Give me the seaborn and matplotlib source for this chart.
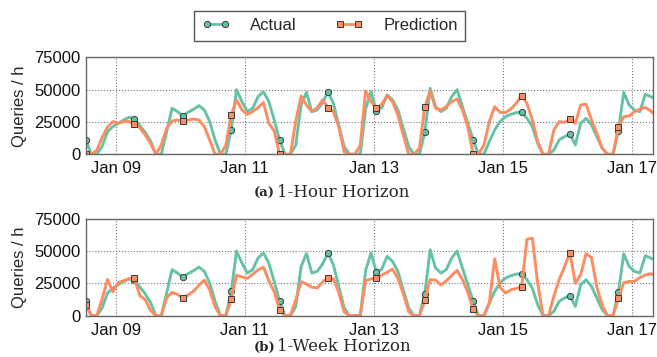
import matplotlib
matplotlib.use("Agg")
import matplotlib.pyplot as plt
from matplotlib.lines import Line2D
import seaborn as sns
import pandas as pd

# ---- data (2-hourly samples starting Jan 08 13:00) ----
start = "2016-01-08 13:00"
step = "2h"

actual = [
    11000, 0, 0, 6000, 17500, 21400, 24000, 26500, 28600,
    27300, 22200, 17000, 10300, 0, 0, 17500, 35600, 33000,
    29900, 32500, 34800, 37600, 34300, 25300, 11100, 0, 0,
    18800, 50000, 40700, 33000, 35600, 44600, 48500, 40700, 26500,
    11100, 0, 0, 7000, 38000, 48000, 33000, 34300, 40000,
    48400, 39400, 22700, 6000, 0, 0, 0, 35000, 48500,
    33500, 36000, 45900, 42000, 34300, 20100, 6000, 0, 0,
    17000, 51000, 36900, 33000, 35600, 44600, 50000, 36900, 24000,
    11100, 0, 0, 9800, 18800, 25300, 29100, 30900, 32200,
    32500, 27800, 21400, 8500, 0, 0, 3300, 11100, 13700,
    15500, 7200, 24000, 27800, 22700, 13700, 4600, 0, 0,
    18000, 47900, 38100, 34300, 33000, 46400, 44600, 42800,
]

pred_hour = [
    0, 0, 3000, 13000, 21000, 25300, 24000, 25300, 25300,
    23200, 20600, 15000, 8500, 0, 7200, 20100, 25800, 26500,
    26000, 26500, 27300, 26500, 21400, 11100, 0, 0, 7000,
    30400, 42000, 34300, 30900, 33000, 36100, 40000, 24000, 18000,
    0, 0, 0, 25300, 45100, 38100, 33000, 36100, 42000,
    36100, 33000, 21400, 2000, 0, 0, 7000, 48900, 40700,
    35600, 38700, 45400, 40700, 30400, 15000, 0, 0, 4600,
    36600, 49000, 35600, 34300, 36900, 40700, 42800, 34300, 21400,
    0, 0, 7200, 25300, 36900, 32500, 32200, 35000, 39400,
    45300, 39400, 26500, 9800, 0, 0, 18800, 25300, 24700,
    27300, 24000, 38100, 38700, 26500, 16200, 4600, 0, 0,
    21400, 29100, 29600, 33000, 34800, 36300, 33500, 29900,
]

pred_week = [
    8000, 0, 0, 13000, 28000, 18500, 25500, 27000, 28500,
    28900, 15500, 12500, 4000, 0, 0, 14000, 18000, 16500,
    13400, 16000, 19000, 23500, 27500, 20000, 7000, 0, 0,
    12600, 31400, 30000, 28900, 32000, 35500, 37500, 27000, 18500,
    4400, 0, 0, 12000, 26300, 24500, 22000, 21500, 26000,
    29400, 28500, 18000, 3000, 0, 0, 0, 27000, 28500,
    28900, 31400, 33500, 36000, 29000, 17000, 3000, 0, 0,
    11900, 28000, 27500, 23700, 27000, 31000, 35000, 28000, 18000,
    4900, 0, 0, 10000, 44000, 22000, 17500, 20000, 21000,
    22200, 59000, 60000, 25000, 0, 0, 15000, 28000, 38000,
    48700, 25000, 32000, 48000, 45000, 22000, 8000, 0, 0,
    13400, 25500, 26500, 26500, 29500, 31500, 32500, 31000,
]

x_end = "2016-01-17 08:00"
xtick_dates = ["2016-01-09", "2016-01-11", "2016-01-13", "2016-01-15", "2016-01-17"]
xtick_labels = ["Jan 09", "Jan 11", "Jan 13", "Jan 15", "Jan 17"]
yticks = [0, 25000, 50000, 75000]
captions = [("(a)", "1-Hour Horizon"), ("(b)", "1-Week Horizon")]

# ---- style ----
sns.set_theme(style="white")
plt.rcParams["font.family"] = ["Liberation Sans", "DejaVu Sans"]

green = "#66c2a5"
orange = "#fc8d62"
edge = "#3a3a3a"

fig = plt.figure(figsize=(6.57, 3.57), dpi=100)
ax1 = fig.add_axes([0.1309, 0.5678, 0.8635, 0.2717])
ax2 = fig.add_axes([0.1309, 0.1157, 0.8635, 0.2717])

times = pd.date_range(start, periods=len(actual), freq=step)

for ax, pred in [(ax1, pred_hour), (ax2, pred_week)]:
    df = pd.DataFrame({"time": times, "Actual": actual, "Prediction": pred})
    sns.lineplot(data=df, x="time", y="Actual", ax=ax, color=green, linewidth=2.1,
                 marker="o", markevery=9, markersize=4.5, markeredgecolor=edge,
                 markeredgewidth=0.7, markerfacecolor=green, errorbar=None, legend=False)
    sns.lineplot(data=df, x="time", y="Prediction", ax=ax, color=orange, linewidth=2.1,
                 marker="s", markevery=9, markersize=4.5, markeredgecolor=edge,
                 markeredgewidth=0.7, markerfacecolor=orange, errorbar=None, legend=False)
    ax.set_xlim(times[0], pd.Timestamp(x_end))
    ax.set_ylim(0, 75000)
    ax.set_yticks(yticks)
    ax.set_yticklabels([str(v) for v in yticks])
    ax.set_xticks(pd.to_datetime(xtick_dates))
    ax.set_xticklabels(xtick_labels)
    ax.set_xlabel("")
    ax.set_ylabel("Queries / h", fontsize=12, labelpad=5)
    ax.tick_params(axis="both", length=0, labelsize=12, colors="#111111")
    ax.tick_params(axis="x", pad=5)
    ax.tick_params(axis="y", pad=4)
    ax.grid(True, linestyle=":", color="#777777", linewidth=0.8)
    for s in ax.spines.values():
        s.set_color("#666666")
        s.set_linewidth(1.0)

handles = [
    Line2D([], [], color=green, lw=2, marker="o", ms=4.5, mec=edge, mew=0.7),
    Line2D([], [], color=orange, lw=2, marker="s", ms=4.5, mec=edge, mew=0.7),
]
fig.legend(handles, ["Actual", "Prediction"], loc="center", bbox_to_anchor=(0.502, 0.928),
           ncol=2, frameon=True, fancybox=False, edgecolor="#555555", numpoints=2,
           handlelength=1.7, handletextpad=1.2, columnspacing=2.3, fontsize=12,
           borderpad=0.45, framealpha=1)
fig.legends[0].get_frame().set_linewidth(1.0)

baselines = [(357 - 196.7) / 357, 0.016]
for (lab, txt), yb in zip(captions, baselines):
    fig.text(254 / 657, yb, lab, fontfamily="DejaVu Serif", fontweight="bold",
             fontsize=9.5, va="baseline", ha="left")
    fig.text(277 / 657, yb, txt, fontfamily="DejaVu Serif", fontsize=12,
             va="baseline", ha="left")

fig.savefig("out.png", dpi=100)
